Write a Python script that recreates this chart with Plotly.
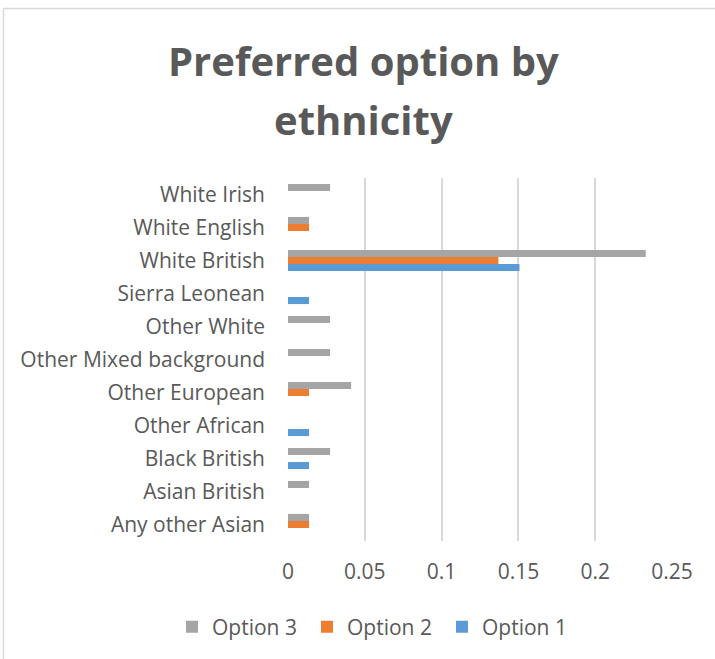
import plotly.graph_objects as go

categories = ["Any other Asian", "Asian British", "Black British", "Other African",
              "Other European", "Other Mixed background", "Other White",
              "Sierra Leonean", "White British", "White English", "White Irish"]
option1 = [0, 0, 0.0137, 0.0137, 0, 0, 0, 0.0137, 0.1507, 0, 0]
option2 = [0.0137, 0, 0, 0, 0.0137, 0, 0, 0, 0.137, 0.0137, 0]
option3 = [0.0137, 0.0137, 0.0274, 0, 0.0411, 0.0274, 0.0274, 0, 0.2329, 0.0137, 0.0274]
x_ticks = [0, 0.05, 0.1, 0.15, 0.2, 0.25]
x_tick_labels = ["0", "0.05", "0.1", "0.15", "0.2", "0.25"]
title_lines = ["Preferred option by", "ethnicity"]

FONT = "Open Sans"
TXT = "#595959"

fig = go.Figure()
fig.add_trace(go.Bar(y=categories, x=option1, name="Option 1", orientation="h",
                     marker=dict(color="#5B9BD5", line=dict(width=0))))
fig.add_trace(go.Bar(y=categories, x=option2, name="Option 2", orientation="h",
                     marker=dict(color="#ED7D31", line=dict(width=0))))
fig.add_trace(go.Bar(y=categories, x=option3, name="Option 3", orientation="h",
                     marker=dict(color="#A5A5A5", line=dict(width=0))))

W, H = 715, 659
L, R, T, B = 288, 43, 178, 118
pw = W - L - R
ph = H - T - B


def py(y_px):
    """pixel row (from top of figure) -> paper y"""
    return (H - B - y_px) / ph


def px(x_px):
    return (x_px - L) / pw


fig.update_layout(
    width=W, height=H,
    margin=dict(l=L, r=R, t=T, b=B, autoexpand=False),
    paper_bgcolor="white", plot_bgcolor="white",
    barmode="group", bargap=0.36, bargroupgap=0,
    font=dict(family=FONT, color=TXT, size=20),
    xaxis=dict(range=[0, 0.25], tickvals=x_ticks, ticktext=x_tick_labels,
               showgrid=True, gridcolor="#D9D9D9", gridwidth=1.5,
               zeroline=False, showline=False, ticks="", ticklen=0,
               ticklabelstandoff=16,
               tickfont=dict(size=21, color=TXT), fixedrange=True),
    yaxis=dict(showgrid=False, zeroline=False, showline=False, ticks="",
               ticklabelstandoff=22,
               tickfont=dict(size=21, color=TXT), fixedrange=True),
    legend=dict(orientation="h", traceorder="reversed",
                xref="paper", yref="paper",
                x=px(172), xanchor="left",
                y=py(627), yanchor="middle",
                entrywidth=90, entrywidthmode="pixels",
                font=dict(size=21, color=TXT), itemwidth=30),
    showlegend=True,
)

# title as two centered lines
for line, cy in zip(title_lines, [61, 120]):
    fig.add_annotation(text="<b>" + line + "</b>", xref="paper", yref="paper",
                       x=px(363.5), y=py(cy), xanchor="center", yanchor="middle",
                       showarrow=False, font=dict(family=FONT, size=40, color=TXT))

# chart border (left and top edges visible)
fig.add_shape(type="line", xref="paper", yref="paper",
              x0=px(3.5), x1=px(W + 5), y0=py(8.5), y1=py(8.5),
              line=dict(color="#D9D9D9", width=1.5))
fig.add_shape(type="line", xref="paper", yref="paper",
              x0=px(3.5), x1=px(3.5), y0=py(H + 5), y1=py(8.5),
              line=dict(color="#D9D9D9", width=1.5))

fig.write_html("out.html", config={"displayModeBar": False},
               post_script="document.body.style.margin='0';document.body.style.overflow='hidden';")
